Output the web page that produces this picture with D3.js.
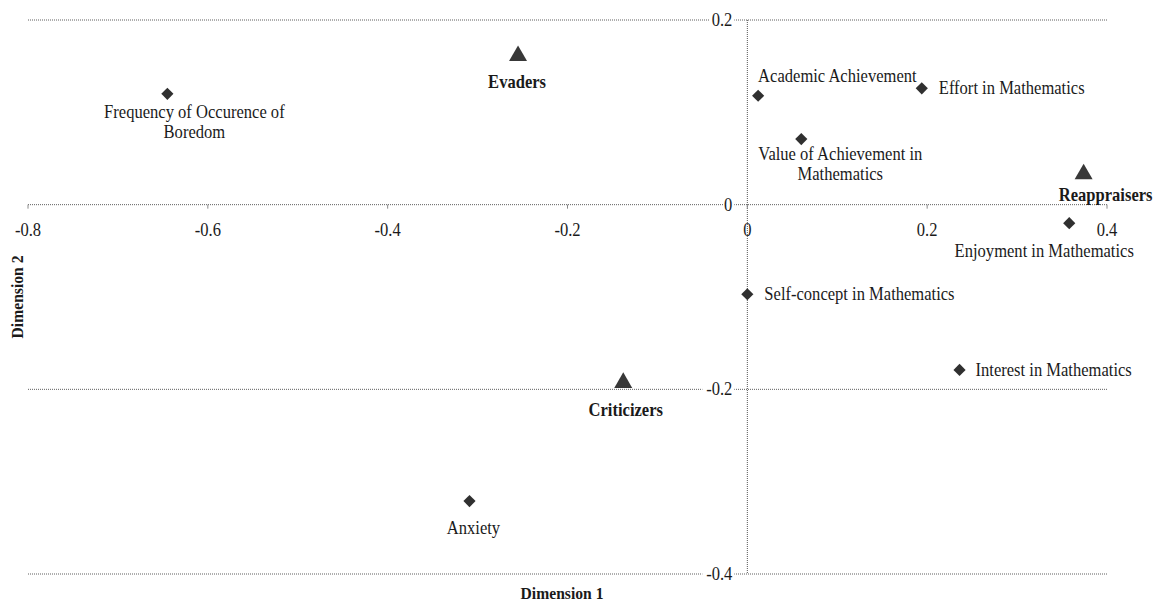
<!DOCTYPE html>
<html>
<head>
<meta charset="utf-8">
<script src="https://cdn.jsdelivr.net/npm/d3@7"></script>
<style>
  body { margin: 0; background: #fff; }
  text { font-family: "Liberation Serif", "Times New Roman", serif; fill: #1a1a1a; }
</style>
</head>
<body>
<svg id="chart" width="1153" height="604"></svg>
<script>
// Correspondence map: emotion / achievement variables and student groups
const pointNames = [
  "Frequency of Occurence of Boredom", "Evaders", "Academic Achievement",
  "Effort in Mathematics", "Value of Achievement in Mathematics", "Reappraisers",
  "Enjoyment in Mathematics", "Self-concept in Mathematics", "Interest in Mathematics",
  "Criticizers", "Anxiety"
];
const dim1 = [-0.645, -0.255, 0.012, 0.194, 0.060, 0.374, 0.358, 0.000, 0.236, -0.138, -0.309];
const dim2 = [0.120, 0.164, 0.118, 0.126, 0.071, 0.036, -0.020, -0.097, -0.179, -0.190, -0.321];
const pointKinds = ["variable", "group", "variable", "variable", "variable", "group",
                    "variable", "variable", "variable", "group", "variable"];
const labelLines = [
  ["Frequency of Occurence of", "Boredom"], ["Evaders"], ["Academic Achievement"],
  ["Effort in Mathematics"], ["Value of Achievement in", "Mathematics"], ["Reappraisers"],
  ["Enjoyment in Mathematics"], ["Self-concept in Mathematics"], ["Interest in Mathematics"],
  ["Criticizers"], ["Anxiety"]
];
const xTicks = [-0.8, -0.6, -0.4, -0.2, 0, 0.2, 0.4];
const yTicks = [0.2, 0, -0.2, -0.4];
const xTickLabels = ["-0.8", "-0.6", "-0.4", "-0.2", "0", "0.2", "0.4"];
const yTickLabels = ["0.2", "0", "-0.2", "-0.4"];

// Label placement relative to each marker: [dx, dy of first baseline, anchor]
const labelLayout = [
  [27, 24.5, "middle"], [-1, 34.5, "middle"], [0, -14, "start"],
  [17, 6, "start"], [39, 21, "middle"], [22, 29.5, "middle"],
  [-25, 34, "middle"], [17, 6, "start"], [16, 6, "start"],
  [2.5, 35.5, "middle"], [4, 32.5, "middle"]
];

// Typeface is set slightly narrow
const squeeze = "scale(0.92,1)";
const fontSize = "18px";

const svg = d3.select("#chart");
const x = d3.scaleLinear().domain([-0.8, 0.4]).range([28, 1107]);
const y = d3.scaleLinear().domain([0.2, -0.4]).range([20, 574]);

const gridColor = "#5e5e5e";

// Horizontal dotted gridlines
svg.append("g").selectAll("line").data(yTicks).join("line")
  .attr("x1", x(-0.8)).attr("x2", x(0.4))
  .attr("y1", d => y(d)).attr("y2", d => y(d))
  .attr("stroke", gridColor).attr("stroke-width", 1)
  .attr("stroke-dasharray", "1,1");

// Vertical axis line at Dimension 1 = 0
svg.append("line")
  .attr("x1", x(0)).attr("x2", x(0))
  .attr("y1", y(0.2)).attr("y2", y(-0.4))
  .attr("stroke", "#555").attr("stroke-width", 1)
  .attr("stroke-dasharray", "1,1");

// Small tick marks on the horizontal axis
svg.append("g").selectAll("line").data(xTicks).join("line")
  .attr("x1", d => x(d)).attr("x2", d => x(d))
  .attr("y1", y(0)).attr("y2", y(0) + 4)
  .attr("stroke", "#8a8a8a").attr("stroke-width", 1);

// Horizontal axis tick labels
svg.append("g").selectAll("g").data(xTicks).join("g")
  .attr("transform", d => `translate(${x(d)},${y(0) + 31})`)
  .append("text")
  .attr("transform", squeeze)
  .attr("text-anchor", "middle")
  .style("font-size", fontSize)
  .text((d, i) => xTickLabels[i]);

// Vertical axis tick labels, sitting on the gridlines
const yLab = svg.append("g").selectAll("g").data(yTicks).join("g")
  .attr("transform", d => `translate(${x(0) - 15},${y(d)})`);
yLab.append("rect")
  .attr("x", (d, i) => -yTickLabels[i].length * 7 - 2).attr("y", -7)
  .attr("width", (d, i) => yTickLabels[i].length * 7 + 4).attr("height", 14)
  .attr("fill", "#fff");
yLab.append("text")
  .attr("transform", `translate(0,6) ${squeeze}`)
  .attr("text-anchor", "end")
  .style("font-size", fontSize)
  .text((d, i) => yTickLabels[i]);

// Markers
const pts = pointNames.map((n, i) => ({ name: n, x: dim1[i], y: dim2[i], kind: pointKinds[i], lines: labelLines[i], lay: labelLayout[i] }));

const diamond = d3.symbol().type(d3.symbolSquare).size(74)();
const triSize = 140;
const triangle = d3.symbol().type(d3.symbolTriangle).size(triSize)();
const triShift = Math.sqrt(triSize / (Math.sqrt(3) * 3)) / 2;

svg.append("g").selectAll("path").data(pts).join("path")
  .attr("d", d => d.kind === "group" ? triangle : diamond)
  .attr("transform", d => d.kind === "group"
    ? `translate(${x(d.x)},${y(d.y) + triShift})`
    : `translate(${x(d.x)},${y(d.y)}) rotate(45)`)
  .attr("fill", d => d.kind === "group" ? "#383838" : "#303030");

// Point labels
const lab = svg.append("g").selectAll("g").data(pts).join("g")
  .attr("transform", d => `translate(${x(d.x) + d.lay[0]},${y(d.y) + d.lay[1]})`)
  .append("text")
  .attr("transform", squeeze)
  .attr("text-anchor", d => d.lay[2])
  .style("font-size", fontSize)
  .style("font-weight", d => d.kind === "group" ? "bold" : "normal");
lab.selectAll("tspan").data(d => d.lines).join("tspan")
  .attr("x", 0)
  .attr("dy", (l, i) => i === 0 ? 0 : 20)
  .text(l => l);

// Axis titles
svg.append("g").attr("transform", "translate(562,599)")
  .append("text")
  .attr("transform", squeeze)
  .attr("text-anchor", "middle")
  .style("font-size", "17px").style("font-weight", "bold")
  .text("Dimension 1");
svg.append("g").attr("transform", "translate(23,297) rotate(-90)")
  .append("text")
  .attr("transform", squeeze)
  .attr("text-anchor", "middle")
  .style("font-size", "17px").style("font-weight", "bold")
  .text("Dimension 2");
</script>
</body>
</html>
